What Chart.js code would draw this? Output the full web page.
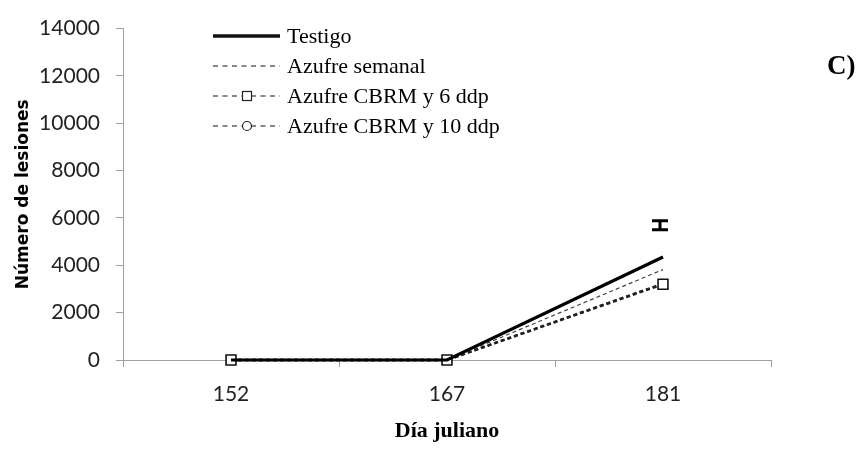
<!DOCTYPE html>
<html>
<head>
<meta charset="utf-8">
<script src="https://cdn.jsdelivr.net/npm/chart.js@4/dist/chart.umd.min.js"></script>
<style>
  html, body { margin: 0; padding: 0; background: #fff; }
  #wrap { width: 866px; height: 466px; position: relative; }
</style>
</head>
<body>
<div id="wrap"><canvas id="c" width="866" height="466"></canvas></div>
<script>
// Julian days sampled
const dias = ['152', '167', '181'];

// Lesion counts per treatment
const testigo        = [0, 0, 4350];
const azufreSemanal  = [0, 0, 3820];
const cbrm6ddp       = [0, 0, 3200];
const cbrm10ddp      = [0, 0, 3230];

// Standard error bar shown above the last sampling date
const errorBar = { index: 2, low: 5500, high: 5880 };

const yTicks = [0, 2000, 4000, 6000, 8000, 10000, 12000, 14000];

const sans = "Lato, 'Open Sans', sans-serif";
const serif = "'Liberation Serif', 'DejaVu Serif', serif";

const legendItems = [
  { label: 'Testigo', width: 3.5, dash: [], marker: null },
  { label: 'Azufre semanal', width: 1.2, dash: [5, 4.5], marker: null },
  { label: 'Azufre CBRM y 6 ddp', width: 1.2, dash: [5, 4.5], marker: 'rect' },
  { label: 'Azufre CBRM y 10 ddp', width: 1.2, dash: [5, 4.5], marker: 'circle' }
];

const extras = {
  id: 'extras',
  afterDatasetsDraw(chart) {
    const ctx = chart.ctx;
    const x = chart.scales.x, y = chart.scales.y;
    // error bar
    const ex = x.getPixelForValue(errorBar.index) - 3;
    const yl = y.getPixelForValue(errorBar.low);
    const yh = y.getPixelForValue(errorBar.high);
    ctx.save();
    ctx.strokeStyle = '#000';
    ctx.lineWidth = 3;
    ctx.beginPath();
    ctx.moveTo(ex - 8, yh); ctx.lineTo(ex + 8, yh);
    ctx.moveTo(ex - 8, yl); ctx.lineTo(ex + 8, yl);
    ctx.moveTo(ex, yh); ctx.lineTo(ex, yl);
    ctx.stroke();

    // legend
    ctx.font = '22px ' + serif;
    ctx.textBaseline = 'middle';
    ctx.fillStyle = '#000';
    legendItems.forEach((it, i) => {
      const ly = 36 + i * 30;
      ctx.save();
      ctx.strokeStyle = '#111';
      ctx.lineWidth = it.width;
      ctx.setLineDash(it.dash);
      ctx.beginPath();
      ctx.moveTo(213, ly); ctx.lineTo(280, ly);
      ctx.stroke();
      ctx.setLineDash([]);
      if (it.marker) {
        ctx.fillStyle = '#fff';
        ctx.strokeStyle = '#222';
        ctx.lineWidth = 1.2;
        if (it.marker === 'rect') {
          ctx.fillRect(242.5, ly - 4.5, 9, 9);
          ctx.strokeRect(242.5, ly - 4.5, 9, 9);
        } else {
          ctx.beginPath();
          ctx.arc(247, ly, 4.5, 0, Math.PI * 2);
          ctx.fill(); ctx.stroke();
        }
      }
      ctx.restore();
      ctx.fillText(it.label, 287, ly + 1);
    });

    // panel label
    ctx.font = 'bold 27px ' + serif;
    ctx.fillText('C)', 827, 67);
    ctx.restore();
  }
};

new Chart(document.getElementById('c'), {
  type: 'line',
  data: {
    labels: dias,
    datasets: [
      { label: 'Testigo', data: testigo, borderColor: '#000', borderWidth: 3.2, pointRadius: 0, order: 1, clip: false },
      { label: 'Azufre semanal', data: azufreSemanal, borderColor: '#444', borderWidth: 1.2, borderDash: [4, 3], pointRadius: 0, order: 2, clip: false },
      { label: 'Azufre CBRM y 6 ddp', data: cbrm6ddp, borderColor: '#222', borderWidth: 2.4, borderDash: [4, 3], clip: false,
        pointStyle: 'rect', pointRadius: 7, pointBackgroundColor: '#fff', pointBorderColor: '#111', pointBorderWidth: 1.6, order: 3 },
      { label: 'Azufre CBRM y 10 ddp', data: cbrm10ddp, borderColor: '#222', borderWidth: 2.4, borderDash: [4, 3], clip: false,
        pointStyle: 'circle', pointRadius: 3.5, pointBackgroundColor: '#fff', pointBorderColor: '#111', pointBorderWidth: 1.2, order: 4 }
    ]
  },
  options: {
    responsive: false,
    animation: false,
    layout: { padding: { left: 13, right: 95, top: 23, bottom: 21 } },
    plugins: { legend: { display: false }, tooltip: { enabled: false } },
    scales: {
      x: {
        offset: true,
        grid: { display: true, drawOnChartArea: false, drawTicks: true, tickLength: 7, color: '#a0a0a0', offset: true },
        border: { color: '#a0a0a0', width: 1 },
        ticks: { color: '#222', font: { family: sans, size: 21 }, padding: 15 },
        title: { display: true, text: 'Día juliano', color: '#000', font: { family: serif, size: 22, weight: 'bold' }, padding: { top: 0, bottom: 0 } },
        afterFit(s) { s.height = 85; }
      },
      y: {
        min: 0, max: 14000,
        afterBuildTicks(s) { s.ticks = yTicks.map(v => ({ value: v })); },
        grid: { display: true, drawOnChartArea: false, drawTicks: true, tickLength: 7, color: '#a0a0a0' },
        border: { color: '#a0a0a0', width: 1 },
        ticks: { color: '#222', font: { family: sans, size: 21 }, padding: 16, callback: v => String(v) },
        title: { display: true, text: 'Número de lesiones', color: '#000', font: { family: "'DejaVu Sans', sans-serif", size: 17, weight: 'bold' }, padding: { top: 0, bottom: 0 } },
        afterFit(s) { s.width = 110; }
      }
    }
  },
  plugins: [extras]
});
</script>
</body>
</html>
